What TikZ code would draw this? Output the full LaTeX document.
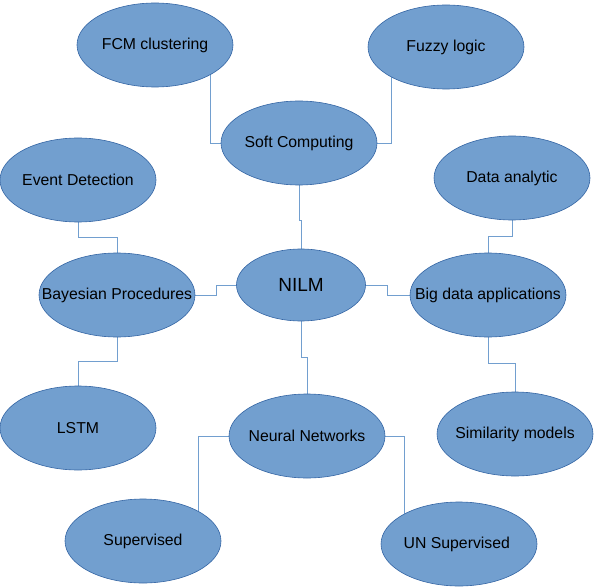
\documentclass[tikz,border=0pt]{standalone}
\usepackage{fontspec}
\setmainfont{Liberation Sans}
\usetikzlibrary{backgrounds,shapes.geometric}
\definecolor{bubblefill}{HTML}{729FCF}
\definecolor{bubbleline}{HTML}{3465A4}
\begin{document}
\begin{tikzpicture}[x=1pt, y=-1pt,
    bubble/.style={ellipse, draw=bubbleline, fill=bubblefill, line width=0.6pt,
        inner sep=0pt, minimum width=156pt, minimum height=84pt,
        font=\fontsize{15.8}{18}\selectfont},
    link/.style={draw=bubblefill, line width=0.9pt}]
    \useasboundingbox (0,0) rectangle (594,588);

    % Ellipses
    \foreach \name/\x/\y/\txt in {
        FCM/155/45/FCM clustering,
        FZ/446/47/Fuzzy logic,
        SC/299/143/Soft Computing,
        ED/78/180/Event Detection,
        DA/512/178/Data analytic,
        BP/117/295/Bayesian Procedures,
        BD/488/295/Big data applications,
        LSTM/78/428/LSTM,
        NN/307/436/Neural Networks,
        SIM/515/434/Similarity models,
        SUP/143/541/Supervised,
        UNS/459/544/UN Supervised
        } {
        \node[bubble] (\name) at (\x,\y) {\makebox[0pt]{\txt}};
    }
    \node[bubble, minimum width=129pt, minimum height=72pt,
        font=\fontsize{19}{22}\selectfont] (NILM) at (301,285) {NILM};

    % Connectors
    \begin{pgfonlayer}{background}
        \draw[link] (SC.west) -| ([xshift=55pt]FCM.center);
        \draw[link] (SC.east) -| ([xshift=-55pt]FZ.center);
        \draw[link] (SC.south) -- ++(0,35) -| (NILM.north);
        \draw[link] (BP.east) -- ++(21,0) |- (NILM.west);
        \draw[link] (ED.south) -- ++(0,15) -| (BP.north);
        \draw[link] (BP.south) -- ++(0,24) -| (LSTM.north);
        \draw[link] (NILM.south) -- ++(0,36) -| (NN.north);
        \draw[link] (NN.west) -| ([xshift=55pt]SUP.center);
        \draw[link] (NN.east) -| ([xshift=-55pt]UNS.center);
        \draw[link] (NILM.east) -- ++(22,0) |- (BD.west);
        \draw[link] (DA.south) -- ++(0,16) -| (BD.north);
        \draw[link] (BD.south) -- ++(0,26) -| (SIM.north);
    \end{pgfonlayer}
\end{tikzpicture}
\end{document}
